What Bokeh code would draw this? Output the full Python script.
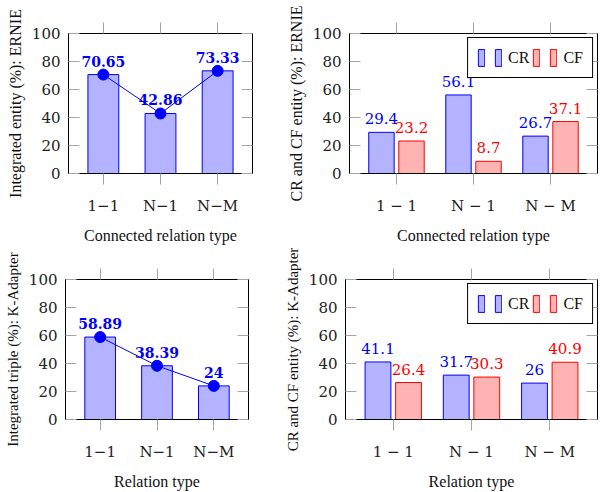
from bokeh.plotting import figure
from bokeh.layouts import row, column
from bokeh.models import Range1d, FixedTicker, LinearAxis, Legend, LegendItem
from bokeh.core.properties import value
from bokeh.embed import file_html
from bokeh.resources import INLINE

# ---- data ----
cats_tight = ["1\u22121", "N\u22121", "N\u2212M"]
cats_spaced = ["1 \u2212 1", "N \u2212 1", "N \u2212 M"]
ernie_integrated = [70.65, 42.86, 73.33]
kadapter_integrated = [58.89, 38.39, 24]
ernie_cr = [29.4, 56.1, 26.7]
ernie_cf = [23.2, 8.7, 37.1]
kadapter_cr = [41.1, 31.7, 26]
kadapter_cf = [26.4, 30.3, 40.9]
series_names = ["CR", "CF"]
y_ticks = [0, 20, 40, 60, 80, 100]

BLUE = "#0000ff"
BLUE_FILL = "#b3b3ff"
RED = "#ff0000"
RED_FILL = "#ffb3b3"
TICK = "#a6a6a6"
NUM_FONT = "DejaVu Serif"
TXT_FONT = "Liberation Serif"


def fmt(v):
    return "{:g}".format(v)


def base(width, height, bl, br, bt, bb, cats, ylabel, xlabel, ylabel_size):
    p = figure(width=width, height=height, output_backend="svg", toolbar_location=None,
               x_range=Range1d(-0.61, 2.61), y_range=Range1d(0, 100),
               min_border_left=bl, min_border_right=br,
               min_border_top=bt, min_border_bottom=bb)
    p.xgrid.visible = False
    p.ygrid.visible = False
    p.outline_line_color = "black"
    p.outline_line_width = 1
    p.background_fill_color = "white"
    p.border_fill_color = "white"

    idx = list(range(len(cats)))
    xa = p.xaxis[0]
    xa.ticker = FixedTicker(ticks=idx)
    xa.major_label_overrides = {i: c for i, c in enumerate(cats)}
    xa.major_tick_out = 11
    xa.major_tick_in = 0
    xa.minor_tick_line_color = None
    xa.major_tick_line_color = TICK
    xa.axis_line_color = "black"
    xa.major_label_text_font = NUM_FONT
    xa.major_label_text_font_size = "15px"
    xa.major_label_text_color = "#222222"
    xa.major_label_standoff = 12
    xa.axis_label = xlabel
    xa.axis_label_text_font = TXT_FONT
    xa.axis_label_text_font_size = "16px"
    xa.axis_label_text_font_style = "normal"
    xa.axis_label_text_color = "#111111"
    xa.axis_label_standoff = 9

    ya = p.yaxis[0]
    ya.ticker = FixedTicker(ticks=y_ticks)
    ya.major_tick_out = 0
    ya.major_tick_in = 11
    ya.minor_tick_line_color = None
    ya.major_tick_line_color = TICK
    ya.axis_line_color = "black"
    ya.major_label_text_font = NUM_FONT
    ya.major_label_text_font_size = "15px"
    ya.major_label_text_color = "#222222"
    ya.major_label_standoff = 8
    ya.axis_label = ylabel
    ya.axis_label_text_font = TXT_FONT
    ya.axis_label_text_font_size = ylabel_size
    ya.axis_label_text_font_style = "normal"
    ya.axis_label_text_color = "#111111"
    ya.axis_label_standoff = 5

    top = LinearAxis(ticker=FixedTicker(ticks=idx), major_tick_out=11, major_tick_in=0,
                     major_label_text_font_size="0px", major_label_standoff=0,
                     major_label_overrides={i: "" for i in idx},
                     minor_tick_line_color=None, major_tick_line_color=TICK,
                     axis_line_color="black")
    p.add_layout(top, "above")
    right = LinearAxis(ticker=FixedTicker(ticks=y_ticks), major_tick_out=0, major_tick_in=11,
                       major_label_text_font_size="0px", major_label_standoff=0,
                       major_label_overrides={t: "" for t in y_ticks},
                       minor_tick_line_color=None, major_tick_line_color=TICK,
                       axis_line_color="black")
    p.add_layout(right, "right")
    return p, idx


def integrated_panel(width, height, bl, br, bt, bb, vals, ylabel, xlabel, ylabel_size):
    p, idx = base(width, height, bl, br, bt, bb, cats_tight, ylabel, xlabel, ylabel_size)
    p.vbar(x=idx, top=vals, width=0.54, bottom=0, fill_color=BLUE_FILL,
           line_color=BLUE, line_width=1)
    p.line(idx, vals, line_color=BLUE, line_width=1)
    p.scatter(idx, vals, size=11, fill_color=BLUE, line_color=BLUE)
    p.text(idx, vals, text=[fmt(v) for v in vals], text_align="center",
           text_baseline="bottom", y_offset=-8, text_color=BLUE,
           text_font=value(NUM_FONT), text_font_size="14px", text_font_style="bold")
    return p


def cr_cf_panel(width, height, bl, br, bt, bb, cr, cf, ylabel, xlabel, ylabel_size):
    p, idx = base(width, height, bl, br, bt, bb, cats_spaced, ylabel, xlabel, ylabel_size)
    off = 0.195
    bw = 0.33
    x_cr = [i - off for i in idx]
    x_cf = [i + off for i in idx]
    r_cr = p.vbar(x=x_cr, top=cr, width=bw, bottom=0, fill_color=BLUE_FILL,
                  line_color=BLUE, line_width=1)
    r_cf = p.vbar(x=x_cf, top=cf, width=bw, bottom=0, fill_color=RED_FILL,
                  line_color=RED, line_width=1)
    p.text(x_cr, cr, text=[fmt(v) for v in cr], text_align="center",
           text_baseline="bottom", y_offset=-8, text_color=BLUE,
           text_font=value(NUM_FONT), text_font_size="15px")
    p.text(x_cf, cf, text=[fmt(v) for v in cf], text_align="center",
           text_baseline="bottom", y_offset=-8, text_color=RED,
           text_font=value(NUM_FONT), text_font_size="15px")
    legend = Legend(items=[LegendItem(label="", renderers=[r_cr]),
                           LegendItem(label=series_names[0], renderers=[r_cr]),
                           LegendItem(label="", renderers=[r_cf]),
                           LegendItem(label=series_names[1], renderers=[r_cf])],
                    orientation="horizontal", location="top_right",
                    border_line_color="black", border_line_width=1,
                    border_line_alpha=1, background_fill_color="white",
                    background_fill_alpha=1,
                    label_text_font=TXT_FONT, label_text_font_size="16px",
                    label_text_color="#111111", label_width=0,
                    glyph_width=8, glyph_height=21, padding=9, spacing=3,
                    label_standoff=6, margin=4)
    p.add_layout(legend)
    return p


f1 = integrated_panel(284, 246, 68, 32, 33, 68, ernie_integrated,
                      "Integrated entity (%): ERNIE", "Connected relation type", "16px")
f2 = cr_cf_panel(316, 246, 58, 3, 33, 68, ernie_cr, ernie_cf,
                 "CR and CF entity (%): ERNIE", "Connected relation type", "16px")
f3 = integrated_panel(281, 246, 65, 33, 33, 69, kadapter_integrated,
                      "Integrated triple (%): K-Adapter", "Relation type", "15px")
f4 = cr_cf_panel(319, 246, 57, 3, 33, 69, kadapter_cr, kadapter_cf,
                 "CR and CF entity (%): K-Adapter", "Relation type", "15px")

layout = column(row(f1, f2), row(f3, f4))

open("out.html", "w").write(file_html(layout, INLINE))
